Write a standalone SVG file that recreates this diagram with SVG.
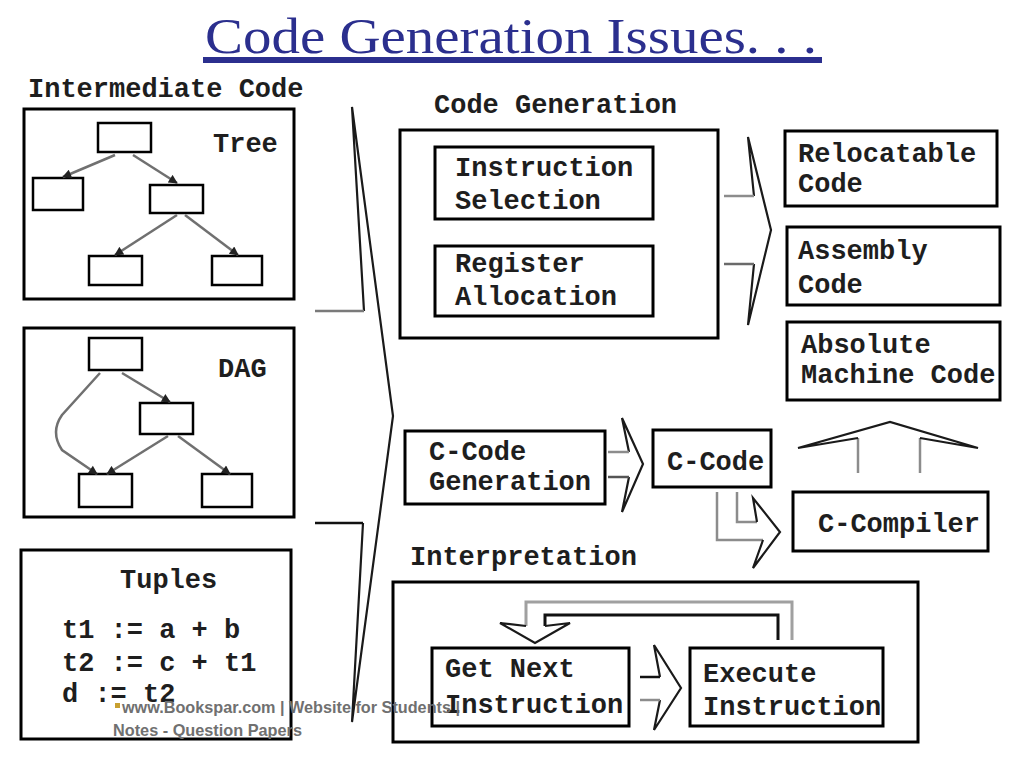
<svg xmlns="http://www.w3.org/2000/svg" width="1024" height="768" viewBox="0 0 1024 768">
<style>
.box{fill:none;stroke:#000;stroke-width:3}
.sbox{fill:none;stroke:#000;stroke-width:2.5}
.t{font-family:"Liberation Mono","DejaVu Sans Mono",monospace;font-weight:bold;font-size:27px;fill:#1e1e1e}
.head{fill:none;stroke:#1a1a1a;stroke-width:2.2;stroke-linejoin:miter}
.shaft{fill:none;stroke:#8c8c8c;stroke-width:2.5}
.edge{fill:none;stroke:#707070;stroke-width:2.5}
.wm{font-family:"Liberation Sans Narrow","Liberation Sans",Arial,sans-serif;font-weight:bold;font-size:17px;fill:#707070}
</style>
<defs>
<marker id="ah" viewBox="0 0 10 10" refX="9" refY="5" markerWidth="11" markerHeight="9" markerUnits="userSpaceOnUse" orient="auto">
<path d="M0,0 L10,5 L0,10 z" fill="#222"/>
</marker>
</defs>
<rect width="1024" height="768" fill="#fff"/>

<g id="title">
<text x="205" y="53" font-family="Liberation Serif,DejaVu Serif,serif" font-size="50" fill="#2b2f8e" textLength="612" lengthAdjust="spacingAndGlyphs">Code Generation Issues. . .</text>
<rect x="203" y="57" width="619" height="6" fill="#2b2f8e"/>
</g>

<g id="intermediate-label"><text class="t" x="28" y="97">Intermediate Code</text></g>

<g id="tree">
<rect class="box" x="24" y="109" width="270" height="190"/>
<text class="t" x="213" y="152">Tree</text>
<rect class="sbox" x="98" y="123" width="53" height="29"/>
<rect class="sbox" x="33" y="178" width="50" height="32"/>
<rect class="sbox" x="150" y="185" width="53" height="28"/>
<rect class="sbox" x="89" y="256" width="53" height="29"/>
<rect class="sbox" x="212" y="256" width="50" height="29"/>
<line class="edge" x1="115" y1="155" x2="63" y2="177" marker-end="url(#ah)"/>
<line class="edge" x1="133" y1="155" x2="177" y2="183" marker-end="url(#ah)"/>
<line class="edge" x1="177" y1="215" x2="115" y2="255" marker-end="url(#ah)"/>
<line class="edge" x1="185" y1="215" x2="238" y2="255" marker-end="url(#ah)"/>
</g>

<g id="dag">
<rect class="box" x="24" y="328" width="270" height="189"/>
<text class="t" x="218" y="377">DAG</text>
<rect class="sbox" x="89" y="338" width="53" height="32"/>
<rect class="sbox" x="140" y="403" width="53" height="31"/>
<rect class="sbox" x="79" y="474" width="53" height="33"/>
<rect class="sbox" x="202" y="474" width="50" height="33"/>
<line class="edge" x1="122" y1="373" x2="170" y2="402" marker-end="url(#ah)"/>
<line class="edge" x1="168" y1="436" x2="107" y2="474" marker-end="url(#ah)"/>
<line class="edge" x1="178" y1="436" x2="230" y2="474" marker-end="url(#ah)"/>
<path class="edge" d="M100,373 L62,415 Q50,432 62,450 L97,474" marker-end="url(#ah)"/>
</g>

<g id="tuples">
<rect class="box" x="21" y="550" width="270" height="189"/>
<text class="t" x="120" y="588">Tuples</text>
<text class="t" x="62" y="638" xml:space="preserve">t1 := a + b</text>
<text class="t" x="62" y="671" xml:space="preserve">t2 := c + t1</text>
<text class="t" x="62" y="702" xml:space="preserve">d := t2</text>
</g>

<g id="code-generation">
<text class="t" x="434" y="113">Code Generation</text>
<rect class="box" x="400" y="130" width="318" height="208"/>
</g>
<g id="instruction-selection">
<rect class="box" x="435" y="147" width="218" height="72"/>
<text class="t" x="455" y="176">Instruction</text>
<text class="t" x="455" y="209">Selection</text>
</g>
<g id="register-allocation">
<rect class="box" x="435" y="246" width="218" height="70"/>
<text class="t" x="455" y="272">Register</text>
<text class="t" x="455" y="305">Allocation</text>
</g>

<g id="relocatable-code">
<rect class="box" x="785" y="131" width="212" height="75"/>
<text class="t" x="798" y="162">Relocatable</text>
<text class="t" x="798" y="192">Code</text>
</g>
<g id="assembly-code">
<rect class="box" x="787" y="227" width="213" height="78"/>
<text class="t" x="798" y="259">Assembly</text>
<text class="t" x="798" y="293">Code</text>
</g>
<g id="absolute-machine-code">
<rect class="box" x="787" y="322" width="213" height="78"/>
<text class="t" x="801" y="353">Absolute</text>
<text class="t" x="801" y="383">Machine Code</text>
</g>

<g id="c-code-generation">
<rect class="box" x="405" y="431" width="200" height="73"/>
<text class="t" x="429" y="460">C-Code</text>
<text class="t" x="429" y="490">Generation</text>
</g>
<g id="c-code">
<rect class="box" x="653" y="430" width="118" height="57"/>
<text class="t" x="667" y="470">C-Code</text>
</g>
<g id="c-compiler">
<rect class="box" x="793" y="492" width="195" height="59"/>
<text class="t" x="818" y="532">C-Compiler</text>
</g>

<g id="interpretation">
<text class="t" x="410" y="565">Interpretation</text>
<rect class="box" x="393" y="582" width="525" height="160"/>
</g>
<g id="get-next-instruction">
<rect class="box" x="432" y="648" width="197" height="78"/>
<text class="t" x="445" y="677">Get Next</text>
<text class="t" x="445" y="713">Instruction</text>
</g>
<g id="execute-instruction">
<rect class="box" x="690" y="648" width="193" height="78"/>
<text class="t" x="703" y="682">Execute</text>
<text class="t" x="703" y="715">Instruction</text>
</g>

<g id="connectors">
<!-- big arrow from intermediate code -->
<polyline class="head" points="364,311 352,107 393,416 352,722 363,523"/>
<line x1="315" y1="311" x2="364" y2="311" stroke="#7a7a7a" stroke-width="2.5"/>
<line x1="315" y1="523" x2="363" y2="523" stroke="#111" stroke-width="2.5"/>
<!-- code generation to outputs -->
<polyline class="head" points="754,196 748,137 771,230 748,325 754,264"/>
<line class="shaft" x1="724" y1="196" x2="754" y2="196"/>
<line x1="724" y1="264" x2="754" y2="264" stroke="#6a6a6a" stroke-width="2.5"/>
<!-- c-code gen to c-code -->
<polyline class="head" points="629,452 622,418 643,464 622,512 629,477"/>
<line class="shaft" x1="608" y1="452" x2="629" y2="452"/>
<line x1="608" y1="477" x2="629" y2="477" stroke="#555" stroke-width="2.5"/>
<!-- c-code to c-compiler -->
<polyline class="shaft" points="717,492 717,540 763,540"/>
<polyline class="shaft" points="737,492 737,522 757,522"/>
<polyline class="head" points="757,522 753,498 780,532 753,568 763,540"/>
<!-- c-compiler to absolute machine code -->
<line class="shaft" x1="858" y1="473" x2="858" y2="438"/>
<line class="shaft" x1="920" y1="473" x2="920" y2="438"/>
<polyline class="head" points="858,438 798,448 890,422 978,448 920,438"/>
<!-- get next to execute -->
<polyline class="head" points="660,677 654,645 681,688 654,730 660,700"/>
<line x1="640" y1="677" x2="660" y2="677" stroke="#111" stroke-width="2.5"/>
<line class="shaft" x1="640" y1="700" x2="660" y2="700"/>
<!-- loop back from execute to get next -->
<polyline points="792,640 792,602 526,602 526,626" fill="none" stroke="#a0a0a0" stroke-width="3"/>
<polyline points="778,640 778,615 545,615 545,626" fill="none" stroke="#111" stroke-width="3"/>
<polyline class="head" points="526,626 500,623 535,643 570,623 545,626"/>
</g>

<g id="watermark">
<rect x="115" y="703" width="5" height="5" fill="#c8a030"/>
<text class="wm" x="122" y="713" textLength="338" lengthAdjust="spacingAndGlyphs">www.Bookspar.com | Website for Students |</text>
<text class="wm" x="113" y="736" textLength="189" lengthAdjust="spacingAndGlyphs">Notes - Question Papers</text>
</g>
</svg>
